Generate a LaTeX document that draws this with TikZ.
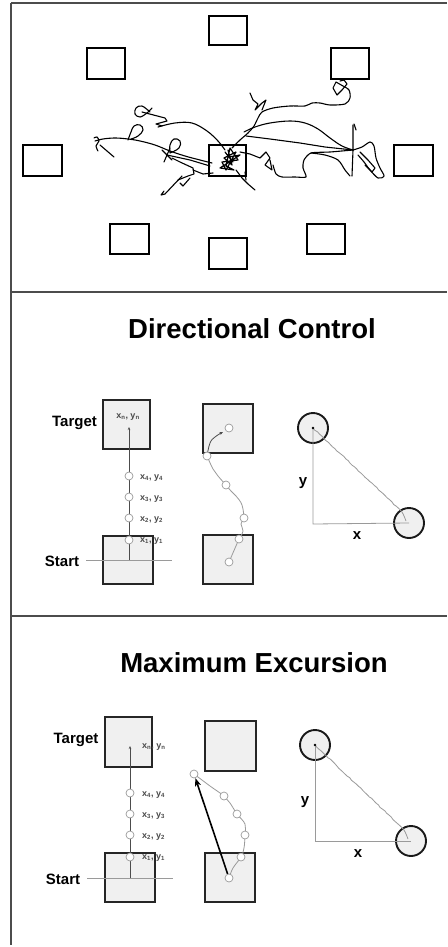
\documentclass[tikz,border=0pt]{standalone}
\usepackage{fontspec}
\setmainfont{Liberation Sans}
\usetikzlibrary{decorations.pathmorphing,arrows.meta}
\definecolor{boxfill}{HTML}{F0F0F0}
\definecolor{lgray}{HTML}{9A9A9A}
\definecolor{lblgray}{HTML}{4A4A4A}
\begin{document}
\begin{tikzpicture}[x=1pt,y=-1pt,
  border/.style={line width=1.3pt, draw=black!70},
  arena/.style={draw=black, line width=2.6pt, inner sep=0pt, minimum width=38pt, minimum height=30pt},
  sq/.style={draw=black!85, line width=1.7pt, fill=boxfill, inner sep=0pt},
  dotc/.style={circle, draw=lgray, fill=white, line width=0.7pt, minimum size=8pt, inner sep=0pt},
  guide/.style={draw=lgray, line width=0.8pt},
  wavy/.style={draw=lgray, line width=0.8pt, decorate, decoration={random steps, segment length=3pt, amplitude=0.5pt}},
  bigc/.style={circle, draw=black!90, line width=1.9pt, fill=boxfill, minimum size=30pt, inner sep=0pt},
  ttl/.style={font=\fontsize{27.5}{30}\bfseries\selectfont, inner sep=0pt},
  lab/.style={font=\fontsize{15}{17}\bfseries\selectfont, inner sep=0pt},
  ptlab/.style={font=\fontsize{9}{10}\bfseries\selectfont, text=lblgray, inner sep=0pt, anchor=west},
  scrib/.style={line width=1.1pt, line join=round, line cap=round},
]
\useasboundingbox[fill=white] (0,0) rectangle (447,947);

% ---------- frame ----------
\draw[border] (11,3) -- (447,3);
\draw[border] (11,3) -- (11,945);
\draw[border] (11,292) -- (447,292);
\draw[border] (11,616) -- (447,616);

% ---------- panel 1: arena ----------
\node[arena, minimum height=29pt] (aN)  at (228,30.5) {};
\node[arena, minimum height=31pt] (aNW) at (106,63.5) {};
\node[arena, minimum height=31pt] (aNE) at (350,63.5) {};
\node[arena, minimum width=39pt, minimum height=31pt] (aW)  at (42.5,160.5) {};
\node[arena, minimum width=37pt, minimum height=31pt] (aC)  at (227.5,160.5) {};
\node[arena, minimum width=39pt, minimum height=31pt] (aE)  at (413.5,160.5) {};
\node[arena, minimum width=39pt] (aSW) at (129.5,239) {};
\node[arena, minimum height=31pt] (aS)  at (228,253.5) {};
\node[arena, minimum width=38pt] (aSE) at (326,239) {};

% trajectory scribble
\draw[scrib] plot[smooth, tension=0.6] coordinates {(95,141) (103,139) (115,138) (128,139) (140,141) (155,145) (170,151) (185,156) (200,160) (212,163)};
\draw[scrib] plot[smooth, tension=0.5] coordinates {(94,138) (97,137) (99,141) (96,146) (98,151)};
\draw[scrib] (100,145) -- (107,151) -- (114,157);
\draw[scrib] plot[smooth, tension=0.7] coordinates {(128,140) (131,132) (134,126) (140,125) (143,130) (138,136) (131,139)};
\draw[scrib] plot[smooth, tension=0.6] coordinates {(150,112) (142,106) (136,108) (135,114) (140,117) (147,113) (152,108)};
\draw[scrib] (142,112) -- (165,118) -- (167,121) -- (156,124) -- (162,126);
\draw[scrib] plot[smooth, tension=0.6] coordinates {(158,127) (175,123) (192,123) (207,131) (218,141) (225,150)};
\draw[scrib] (162,150) -- (172,160) (164,162) -- (170,148);
\draw[scrib] plot[smooth, tension=0.7] coordinates {(170,153) (170,145) (174,139) (180,141) (179,148) (170,153)};
\draw[scrib] (167,155) -- (190,160) -- (210,166);
\draw[scrib] (172,158) -- (180,162) -- (193,168) -- (194,174) -- (188,176) -- (178,180);
\draw[scrib] (182,176) -- (165,194) -- (161,195) -- (164,191);
\draw[scrib] (190,178) -- (183,186) -- (180,183);
\draw[scrib] (193,170) -- (203,174) -- (213,173);
% dense centre
\draw[scrib, line width=1.2pt] (228,150) -- (232,165) -- (224,158) -- (236,152) -- (226,170) -- (222,162) -- (238,160) -- (230,148) -- (226,166) -- (234,170) -- (220,168) -- (240,155) -- (229,157) -- (233,162) -- (225,152);
\draw[scrib] (236,170) -- (242,178) -- (248,184) -- (255,190);
\draw[scrib] (245,172) -- (246,180);
% right side
\draw[scrib] plot[smooth, tension=0.5] coordinates {(232,148) (240,140) (248,133) (254,126) (258,118) (262,112) (273,108) (290,106) (305,106) (312,103) (320,103) (330,105) (345,104) (350,98) (349,90) (343,86)};
\draw[scrib] (343,86) -- (336,82) -- (333,88) -- (337,95) -- (342,90) -- (347,84) -- (344,80) -- (340,81);
\draw[scrib] (250,93) -- (253,100) -- (258,104) -- (255,110) -- (262,103) -- (266,100) -- (262,110);
\draw[scrib] plot[smooth, tension=0.6] coordinates {(244,132) (255,127) (270,123) (290,121) (305,123) (318,129) (330,138) (342,146) (353,150)};
\draw[scrib] (246,136) -- (270,139) -- (300,143) -- (325,147) -- (353,150);
\draw[scrib] (240,152) -- (250,154) -- (260,158) -- (266,152) -- (270,158) -- (265,165) -- (272,170) -- (270,160);
\draw[scrib] plot[smooth, tension=0.4] coordinates {(273,165) (276,174) (282,177) (295,177) (306,177) (303,168) (304,160) (311,153) (330,152) (353,150)};
\draw[scrib] plot[smooth, tension=0.5] coordinates {(311,153) (325,155) (338,160) (345,170) (350,176)};
\draw[scrib] (353,125) -- (353,150) -- (352,176);
\draw[scrib] (354,124) -- (356,130);
\draw[scrib] plot[smooth, tension=0.5] coordinates {(353,150) (362,147) (370,142) (374,146) (376,158) (380,168) (384,176) (378,178) (370,170) (364,162) (358,155)};
\draw[scrib] (360,152) -- (368,160) -- (375,168) -- (372,172) -- (365,165);

% ---------- panel 2: Directional Control ----------
\node[ttl] (t2) at (252,329) {Directional Control};

% left diagram
\node[sq, minimum width=47pt, minimum height=49pt] (tgtA) at (126.5,424.5) {};
\node[sq, minimum width=50pt, minimum height=48pt] (stA) at (128,560) {};
\node[lab] (lblTA) at (74.5,423) {Target};
\node[lab] (lblSA) at (62,561) {Start};
\coordinate (oA) at (129,560);
\coordinate (eA) at (129,427);
\coordinate (slA) at (86,560);
\coordinate (srA) at (172,560);
\draw[guide] (slA) -- (srA);
\draw[guide, -{Stealth[length=3pt,width=2.5pt]}, black!70] (oA) -- (eA);
\node[dotc] (pA1) at (129,540) {};
\node[dotc] (pA2) at (129,518) {};
\node[dotc] (pA3) at (129,497) {};
\node[dotc] (pA4) at (129,476) {};
\node[ptlab] (lA4) at (140,478) {x\textsubscript{4}, y\textsubscript{4}};
\node[ptlab] (lA3) at (140,499) {x\textsubscript{3}, y\textsubscript{3}};
\node[ptlab] (lA2) at (140,520) {x\textsubscript{2}, y\textsubscript{2}};
\node[ptlab] (lA1) at (140,541) {x\textsubscript{1}, y\textsubscript{1}};
\node[ptlab, anchor=center] (lAn) at (128,417) {x\textsubscript{n}, y\textsubscript{n}};

% middle diagram
\node[sq, minimum width=50pt, minimum height=49pt] (tgtB) at (228,428.5) {};
\node[sq, minimum width=50pt, minimum height=49pt] (stB) at (228,559.5) {};
\coordinate (b0) at (229,562);
\coordinate (b1) at (239,539);
\coordinate (b2) at (244,518);
\coordinate (b3) at (226,485);
\coordinate (b4) at (207,456);
\coordinate (b5) at (229,428);
\coordinate (bt) at (223,432);
\draw[guide] (b0) -- (b1);
\draw[guide] plot[smooth, tension=0.7] coordinates {(b1) (243,531) (241,524) (b2)};
\draw[guide] plot[smooth, tension=0.7] coordinates {(b2) (242,505) (236,496) (231,491) (b3)};
\draw[guide] plot[smooth, tension=0.7] coordinates {(b3) (218,476) (213,469) (b4)};
\draw[guide, black!70, -{Stealth[length=3.5pt,width=3pt]}] plot[smooth, tension=0.7] coordinates {(b4) (210,443) (215,437) (bt)};
\node[dotc] (pB0) at (b0) {};
\node[dotc] (pB1) at (b1) {};
\node[dotc] (pB2) at (b2) {};
\node[dotc] (pB3) at (b3) {};
\node[dotc] (pB4) at (b4) {};
\node[dotc] (pB5) at (b5) {};

% right diagram
\node[bigc] (cA) at (313,428) {};
\node[bigc] (cB) at (409,523) {};
\coordinate (kA) at (313,524);
\draw[guide] (cA.center) -- (kA) -- (cB.center);
\draw[wavy] (cA.center) -- (396,506);
\draw[guide] plot[smooth, tension=0.6] coordinates {(396,506) (402,512) (406,521)};
\fill[black] (cA.center) circle (1.3pt);
\node[lab] (yA) at (303,483) {y};
\node[lab] (xA) at (357,536) {x};

% ---------- panel 3: Maximum Excursion ----------
\node[ttl] (t3) at (254,663) {Maximum Excursion};

% left diagram
\node[sq, minimum width=47pt, minimum height=50pt] (tgtC) at (128.5,742) {};
\node[sq, minimum width=50pt, minimum height=49pt] (stC) at (130,877.5) {};
\node[lab] (lblTC) at (76,740) {Target};
\node[lab] (lblSC) at (63,879) {Start};
\coordinate (oC) at (130,878);
\coordinate (eC) at (130,746);
\coordinate (slC) at (87,878);
\coordinate (srC) at (173,878);
\draw[guide] (slC) -- (srC);
\draw[guide, -{Stealth[length=3pt,width=2.5pt]}, black!70] (oC) -- (eC);
\node[dotc] (pC1) at (130,857) {};
\node[dotc] (pC2) at (130,835) {};
\node[dotc] (pC3) at (130,814) {};
\node[dotc] (pC4) at (130,793) {};
\node[ptlab] (lC4) at (142,795) {x\textsubscript{4}, y\textsubscript{4}};
\node[ptlab] (lC3) at (142,816) {x\textsubscript{3}, y\textsubscript{3}};
\node[ptlab] (lC2) at (142,837) {x\textsubscript{2}, y\textsubscript{2}};
\node[ptlab] (lC1) at (142,858) {x\textsubscript{1}, y\textsubscript{1}};
\node[ptlab] (lCn) at (142,747) {x\textsubscript{n}, y\textsubscript{n}};

% middle diagram
\node[sq, minimum width=51pt, minimum height=50pt] (tgtD) at (230.5,746) {};
\node[sq, minimum width=50pt, minimum height=49pt] (stD) at (230,877.5) {};
\coordinate (d0) at (229,878);
\coordinate (d1) at (241,857);
\coordinate (d2) at (245,835);
\coordinate (d3) at (237,814);
\coordinate (d4) at (224,796);
\coordinate (d5) at (194,774);
\draw[guide] plot[smooth, tension=0.6] coordinates {(d0) (233,868) (d1) (244,848) (d2) (245,824) (d3) (230,803) (d4) (210,786) (d5)};
\node[dotc] (pD0) at (d0) {};
\node[dotc] (pD1) at (d1) {};
\node[dotc] (pD2) at (d2) {};
\node[dotc] (pD3) at (d3) {};
\node[dotc] (pD4) at (d4) {};
\node[dotc] (pD5) at (d5) {};
\draw[line width=1.6pt, -{Stealth[length=8pt,width=6pt,inset=2pt]}] (pD0) -- (pD5);

% right diagram
\node[bigc] (cC) at (315,745) {};
\node[bigc] (cD) at (411,841) {};
\coordinate (kC) at (315,841);
\draw[guide] (cC.center) -- (kC) -- (cD.center);
\draw[wavy] (cC.center) -- (398,824);
\draw[guide] plot[smooth, tension=0.6] coordinates {(398,824) (404,830) (408,839)};
\fill[black] (cC.center) circle (1.3pt);
\node[lab] (yC) at (305,802) {y};
\node[lab] (xC) at (358,854) {x};
\end{tikzpicture}
\end{document}
